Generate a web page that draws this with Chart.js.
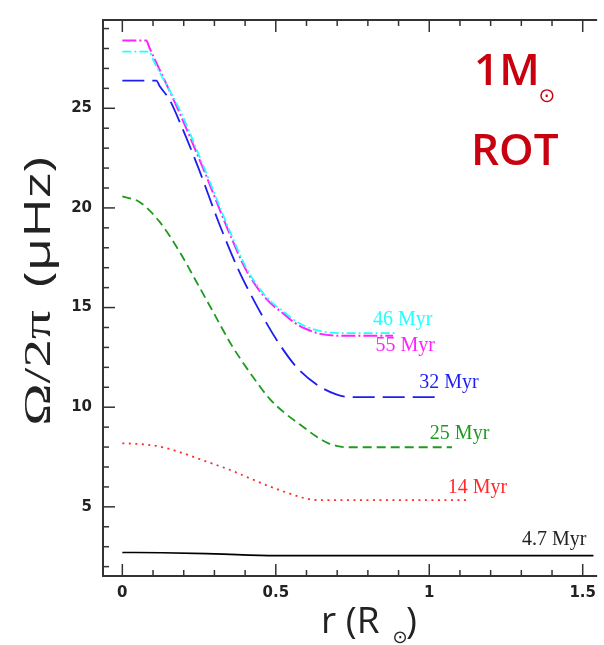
<!DOCTYPE html>
<html lang="en">
<head>
    <meta charset="UTF-8">
    <title>Omega profile - 1 Msun ROT</title>
    <script src="https://cdn.jsdelivr.net/npm/chart.js"></script>
    <style>
        html, body {
            margin: 0;
            padding: 0;
            background: #fff;
        }

        #wrap {
            width: 604px;
            height: 645px;
        }
    </style>
</head>
<body>
    <div id="wrap"><canvas id="omega" width="604" height="645"></canvas></div>

    <script>
        // radius (R_sun) and Omega/2pi (microHz), one pair per age
        const r47 = [0, 0.13, 0.30, 0.50, 1.535];
        const w47 = [2.71, 2.70, 2.64, 2.55, 2.55];

        const r14 = [0, 0.057, 0.121, 0.196, 0.271, 0.346, 0.41, 0.474, 0.539, 0.592, 0.64, 1.13];
        const w14 = [8.19, 8.15, 8.03, 7.70, 7.29, 6.88, 6.47, 6.06, 5.70, 5.44, 5.34, 5.34];

        const r25 = [0, 0.057, 0.121, 0.185, 0.239, 0.292, 0.357, 0.421, 0.48, 0.53, 0.58, 0.63, 0.67, 0.71, 0.74, 1.074];
        const w25 = [20.58, 20.29, 19.31, 17.84, 16.36, 14.89, 13.09, 11.62, 10.42, 9.70, 9.12, 8.55, 8.20, 8.02, 7.99, 7.99];

        const r32 = [0, 0.111, 0.122, 0.153, 0.192, 0.250, 0.314, 0.378, 0.443, 0.507, 0.571, 0.635, 0.699, 0.738, 1.029];
        const w32 = [26.39, 26.39, 26.10, 25.45, 24.13, 21.92, 19.27, 16.91, 14.95, 13.28, 11.95, 11.12, 10.63, 10.51, 10.51];

        const r46 = [0, 0.089, 0.098, 0.19, 0.27, 0.35, 0.404, 0.446, 0.484, 0.527, 0.564, 0.607, 0.65, 0.72, 0.889];
        const w46 = [27.84, 27.84, 27.52, 24.82, 21.88, 18.84, 16.98, 15.97, 15.30, 14.78, 14.33, 14.00, 13.80, 13.72, 13.72];

        const r55 = [0, 0.078, 0.088, 0.185, 0.266, 0.346, 0.400, 0.442, 0.480, 0.523, 0.560, 0.603, 0.645, 0.716, 0.882];
        const w55 = [28.40, 28.40, 28.05, 24.82, 21.88, 18.84, 16.98, 15.95, 15.26, 14.72, 14.25, 13.90, 13.68, 13.58, 13.58];

        const ages = ['4.7 Myr', '14 Myr', '25 Myr', '32 Myr', '46 Myr', '55 Myr'];
        const xTicks = [0, 0.5, 1, 1.5];
        const yTicks = [5, 10, 15, 20, 25];

        function toPoints(r, w) {
            return r.map((v, i) => ({ x: v, y: w[i] }));
        }

        const colors = ['#000000', '#ff2a2a', '#1f9a1f', '#1e1ef0', '#22ffff', '#ff22ff'];
        const dashes = [[], [2, 4.5], [9, 5], [22, 8], [9, 3, 2, 3], [14, 3, 2, 3]];
        const widths = [1.6, 1.8, 1.8, 1.8, 1.8, 2.0];
        const series = [[r47, w47], [r14, w14], [r25, w25], [r32, w32], [r46, w46], [r55, w55]];

        // where each age label sits, in data units (left edge, vertical middle)
        const labelSpots = [[1.302, 3.33], [1.06, 5.98], [1.002, 8.68], [0.967, 11.25], [0.817, 14.38], [0.825, 13.1]];

        function line(ctx, x1, y1, x2, y2) {
            ctx.beginPath();
            ctx.moveTo(x1, y1);
            ctx.lineTo(x2, y2);
            ctx.stroke();
        }

        function stretched(ctx, text, offset, sx) {
            ctx.save();
            ctx.translate(offset, 0);
            ctx.scale(sx, 1);
            ctx.fillText(text, 0, 0);
            ctx.restore();
        }

        const decor = {
            id: 'decor',
            afterDraw(chart) {
                const ctx = chart.ctx;
                const a = chart.chartArea;
                const xs = chart.scales.x;
                const ys = chart.scales.y;
                ctx.save();

                // frame: top, left, bottom (right side runs off the page)
                ctx.strokeStyle = '#333';
                ctx.lineWidth = 2;
                ctx.beginPath();
                ctx.moveTo(a.right, a.top);
                ctx.lineTo(a.left, a.top);
                ctx.lineTo(a.left, a.bottom);
                ctx.lineTo(a.right, a.bottom);
                ctx.stroke();

                // inward ticks
                ctx.lineWidth = 1.5;
                for (let i = 0; i <= 15; i++) {
                    const px = xs.getPixelForValue(i / 10);
                    const len = i % 5 === 0 ? 12 : 6;
                    line(ctx, px, a.bottom, px, a.bottom - len);
                    line(ctx, px, a.top, px, a.top + len);
                }
                for (let v = 2; v <= 29; v++) {
                    const py = ys.getPixelForValue(v);
                    const len = v % 5 === 0 ? 12 : 6;
                    line(ctx, a.left, py, a.left + len, py);
                }

                // age labels
                ctx.font = '20px "Liberation Serif"';
                ctx.textBaseline = 'middle';
                ctx.textAlign = 'left';
                labelSpots.forEach((p, i) => {
                    ctx.fillStyle = colors[i] === '#000000' ? '#222' : colors[i];
                    ctx.fillText(ages[i], xs.getPixelForValue(p[0]), ys.getPixelForValue(p[1]));
                });

                // 1M_sun ROT
                ctx.fillStyle = '#c8000f';
                ctx.textBaseline = 'alphabetic';
                ctx.font = '600 44px "Open Sans"';
                ctx.fillText('1M', 474, 85);
                ctx.fillText('ROT', 471, 165);
                ctx.font = '20px "DejaVu Sans"';
                ctx.textAlign = 'center';
                ctx.textBaseline = 'middle';
                ctx.fillText('\u2299', 547, 97);

                // x title r (R_sun)
                ctx.fillStyle = '#222';
                ctx.textAlign = 'left';
                ctx.textBaseline = 'alphabetic';
                ctx.font = '37px "Open Sans"';
                ctx.fillText('r (R', 321, 633);
                ctx.font = '18px "DejaVu Sans"';
                ctx.textAlign = 'center';
                ctx.textBaseline = 'middle';
                ctx.fillText('\u2299', 400, 638);
                ctx.font = '37px "Open Sans"';
                ctx.textAlign = 'left';
                ctx.textBaseline = 'alphabetic';
                ctx.fillText(')', 406, 633);

                // y title Omega/2pi (microHz), drawn wide like the original
                ctx.translate(50, 294);
                ctx.rotate(-Math.PI / 2);
                ctx.textAlign = 'center';
                ctx.font = '38px "Liberation Serif"';
                stretched(ctx, '\u03A9/2\u03C0', -74, 1.5);
                ctx.font = '36px "Open Sans"';
                stretched(ctx, '(\u03BCHz)', 72, 1.5);

                ctx.restore();
            }
        };

        new Chart(document.getElementById('omega'), {
            type: 'line',
            data: {
                datasets: series.map((s, i) => ({
                    label: ages[i],
                    data: toPoints(s[0], s[1]),
                    borderColor: colors[i],
                    borderWidth: widths[i],
                    borderDash: dashes[i],
                    pointRadius: 0,
                    fill: false,
                    cubicInterpolationMode: 'monotone'
                }))
            },
            options: {
                responsive: false,
                animation: false,
                layout: { padding: { top: 7, left: 0, right: 0, bottom: 0 } },
                plugins: {
                    legend: { display: false },
                    tooltip: { enabled: false }
                },
                scales: {
                    x: {
                        type: 'linear',
                        min: -0.063,
                        max: 1.547,
                        grid: { display: false, drawTicks: false },
                        border: { display: false },
                        afterBuildTicks: s => { s.ticks = xTicks.map(v => ({ value: v })); },
                        afterFit: s => { s.height = 69; },
                        ticks: {
                            padding: 8,
                            maxRotation: 0,
                            color: '#222',
                            callback: v => String(v),
                            font: { family: 'DejaVu Sans', size: 15, weight: 'bold' }
                        }
                    },
                    y: {
                        type: 'linear',
                        min: 1.53,
                        max: 29.43,
                        grid: { display: false, drawTicks: false },
                        border: { display: false },
                        afterBuildTicks: s => { s.ticks = yTicks.map(v => ({ value: v })); },
                        afterFit: s => { s.width = 103; },
                        ticks: {
                            padding: 11,
                            color: '#222',
                            callback: v => String(v),
                            font: { family: 'DejaVu Sans', size: 15, weight: 'bold' }
                        }
                    }
                }
            },
            plugins: [decor]
        });
    </script>
</body>
</html>
